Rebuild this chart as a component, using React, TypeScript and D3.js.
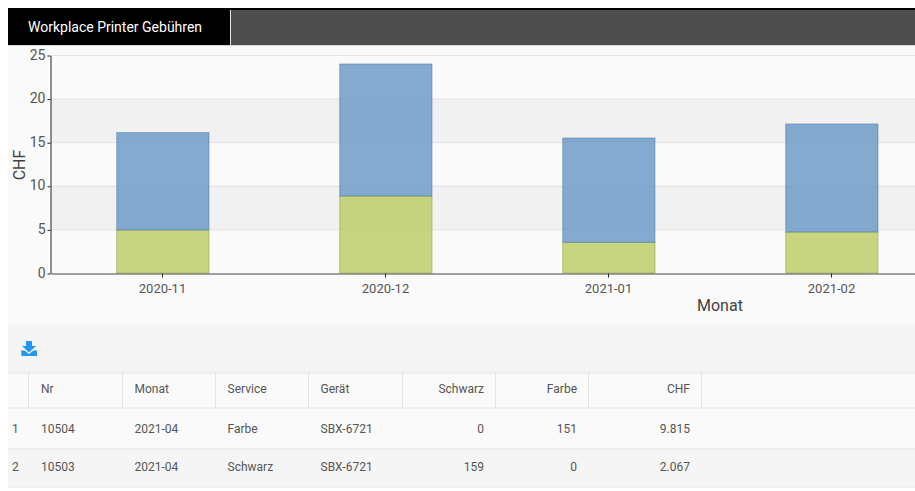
import React, { useEffect, useRef } from 'react';
import * as d3 from 'd3';

const months = ['2020-11', '2020-12', '2021-01', '2021-02'];
const colorCost = [4.93, 8.83, 3.52, 4.7];
const blackCost = [11.17, 15.14, 11.96, 12.39];
const yTicks = [0, 5, 10, 15, 20, 25];

const tableHeaders = ['Nr', 'Monat', 'Service', 'Gerät', 'Schwarz', 'Farbe', 'CHF'];
const rowIndex = ['1', '2'];
const rowNr = ['10504', '10503'];
const rowMonat = ['2021-04', '2021-04'];
const rowService = ['Farbe', 'Schwarz'];
const rowGeraet = ['SBX-6721', 'SBX-6721'];
const rowSchwarz = ['0', '159'];
const rowFarbe = ['151', '0'];
const rowChf = ['9.815', '2.067'];

const width = 915;
const height = 491;
const font = 'Roboto, sans-serif';

// table column borders
const colEdges = [28, 122, 215, 308, 402, 495, 588, 701];

const App: React.FC = () => {
	const svgRef = useRef<SVGSVGElement | null>(null);

	useEffect(() => {
		if (!svgRef.current) return;
		const svg = d3.select(svgRef.current);
		svg.selectAll('*').remove();

		// page blocks
		svg.append('rect').attr('x', 8).attr('y', 8).attr('width', width - 8).attr('height', 37).attr('fill', '#000');
		svg.append('rect').attr('x', 231).attr('y', 10).attr('width', width - 231).attr('height', 35).attr('fill', '#4d4d4d');
		svg.append('rect').attr('x', 230).attr('y', 10).attr('width', 1).attr('height', 35).attr('fill', '#e8e8e8');
		svg.append('rect').attr('x', 8).attr('y', 45).attr('width', width - 8).attr('height', 1).attr('fill', '#d8d8d8');
		svg.append('text')
			.attr('x', 28).attr('y', 32)
			.attr('font-family', font).attr('font-size', 14).attr('fill', '#fff')
			.text('Workplace Printer Gebühren');

		svg.append('rect').attr('x', 8).attr('y', 46).attr('width', width - 8).attr('height', 278).attr('fill', '#fafafa');

		// chart
		const x = d3.scaleBand<string>().domain(months).range([51, 943]).paddingInner(0.583).paddingOuter(0.2915);
		const y = d3.scaleLinear().domain([0, 25]).range([273, 55]);

		const bands = [[5, 10], [15, 20]];
		bands.forEach(([a, b]) => {
			svg.append('rect')
				.attr('x', 51).attr('y', y(b))
				.attr('width', width - 51).attr('height', y(a) - y(b))
				.attr('fill', '#f1f1f1');
		});

		yTicks.filter(t => t > 0).forEach(t => {
			svg.append('line')
				.attr('x1', 51).attr('x2', width)
				.attr('y1', y(t) + 0.5).attr('y2', y(t) + 0.5)
				.attr('stroke', '#e2e2e2').attr('stroke-width', 1);
		});

		const stackData = months.map((m, i) => ({ month: m, farbe: colorCost[i], schwarz: blackCost[i] }));
		const stack = d3.stack<{ month: string; farbe: number; schwarz: number }>().keys(['farbe', 'schwarz']);
		const fills: Record<string, string> = { farbe: '#bccc62', schwarz: '#6796c4' };
		const strokes: Record<string, string> = { farbe: '#8a9a40', schwarz: '#4a78a6' };

		stack(stackData).forEach(layer => {
			svg.append('g')
				.selectAll('rect')
				.data(layer)
				.enter().append('rect')
				.attr('x', d => (x(d.data.month) ?? 0) + 0.7)
				.attr('y', d => y(d[1]))
				.attr('width', x.bandwidth() - 0.7)
				.attr('height', d => y(d[0]) - y(d[1]))
				.attr('fill', fills[layer.key])
				.attr('fill-opacity', 0.8)
				.attr('stroke', strokes[layer.key])
				.attr('stroke-opacity', 0.5);
		});

		// axes
		const yAxis = svg.append('g')
			.attr('transform', 'translate(50.5,0.5)')
			.call(d3.axisLeft(y).tickValues(yTicks).tickSize(3).tickPadding(2).tickSizeOuter(0));
		yAxis.select('.domain').attr('stroke', '#222');
		yAxis.selectAll('.tick line').attr('stroke', '#222');
		yAxis.selectAll('.tick text').attr('font-family', font).attr('font-size', 14).attr('fill', '#555').attr('dy', '0.26em');

		const xAxis = svg.append('g')
			.attr('transform', 'translate(0,273.5)')
			.call(d3.axisBottom(x).tickSize(4).tickPadding(6).tickSizeOuter(0));
		xAxis.select('.domain').attr('stroke', '#444').attr('stroke-width', 1);
		xAxis.selectAll('.tick line').attr('stroke', '#222');
		xAxis.selectAll('.tick text').attr('font-family', font).attr('font-size', 13).attr('fill', '#555');

		svg.append('text')
			.attr('transform', 'translate(24.5,165) rotate(-90)')
			.attr('text-anchor', 'middle')
			.attr('font-family', font).attr('font-size', 16).attr('fill', '#444')
			.text('CHF');
		svg.append('text')
			.attr('x', 697).attr('y', 311)
			.attr('font-family', font).attr('font-size', 16).attr('fill', '#444')
			.text('Monat');

		// toolbar
		svg.append('rect').attr('x', 8).attr('y', 324).attr('width', width - 8).attr('height', 47).attr('fill', '#f5f5f5');
		const icon = svg.append('g').attr('fill', '#2196f3');
		icon.append('path').attr('d', 'M26 341h6v5h4l-7 6.5l-7-6.5h4z');
		icon.append('path').attr('d', 'M21 350.5h3.5l4.5 3.5l4.5-3.5h3.5v5.5h-15.5z');

		// table
		svg.append('rect').attr('x', 8).attr('y', 371).attr('width', width - 8).attr('height', 38).attr('fill', '#fafafa');
		svg.append('rect').attr('x', 8).attr('y', 371).attr('width', width - 8).attr('height', 3).attr('fill', '#e9e9e9').attr('opacity', 0.7);
		svg.append('rect').attr('x', 8).attr('y', 409).attr('width', width - 8).attr('height', 39).attr('fill', '#fafafa');
		svg.append('rect').attr('x', 8).attr('y', 448).attr('width', width - 8).attr('height', 39).attr('fill', '#f5f5f5');
		[407.5, 448.5, 486.5].forEach(py => {
			svg.append('rect').attr('x', 8).attr('y', py).attr('width', width - 8).attr('height', 1).attr('fill', '#e4e4e4');
		});
		colEdges.forEach(cx => {
			svg.append('rect').attr('x', cx).attr('y', 371).attr('width', 1).attr('height', 37).attr('fill', '#e4e4e4');
		});

		const columns = [rowNr, rowMonat, rowService, rowGeraet, rowSchwarz, rowFarbe, rowChf];
		const addCell = (i: number, py: number, label: string) => {
			const right = i >= 4;
			svg.append('text')
				.attr('x', right ? colEdges[i + 1] - 11 : colEdges[i] + (i === 0 ? 13 : 12.5))
				.attr('y', py)
				.attr('text-anchor', right ? 'end' : 'start')
				.attr('font-family', font).attr('font-size', 12).attr('fill', '#555')
				.text(label);
		};
		tableHeaders.forEach((h, i) => addCell(i, 393, h));
		columns.forEach((col, i) => col.forEach((v, r) => addCell(i, r === 0 ? 433 : 471, v)));
		rowIndex.forEach((v, r) => {
			svg.append('text')
				.attr('x', 12).attr('y', r === 0 ? 433 : 471)
				.attr('font-family', font).attr('font-size', 12).attr('fill', '#555')
				.text(v);
		});
	}, []);

	return (
		<svg
			ref={svgRef}
			width={width}
			height={height}
			viewBox={`0 0 ${width} ${height}`}
			style={{ position: 'absolute', left: 0, top: 0, display: 'block' }}
		/>
	);
};

export default App;
